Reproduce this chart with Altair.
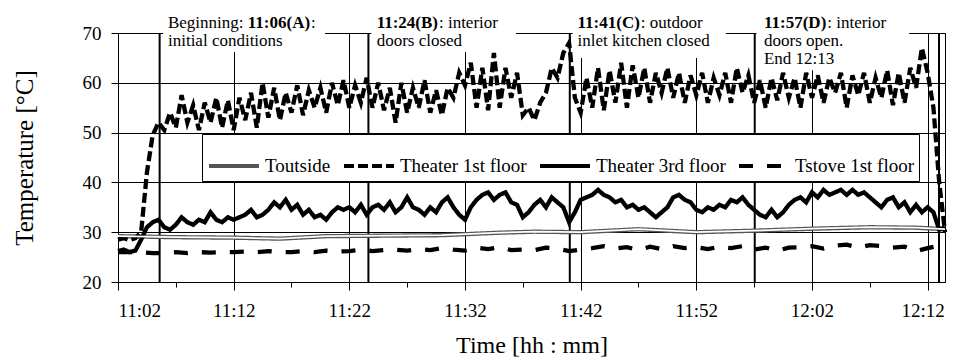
import altair as alt
import pandas as pd

# ---------------- data (minutes after 11:00) ----------------
SERIES = ["Toutside", "Theater 1st floor", "Theater 3rd floor", "Tstove 1st floor"]

T_FINE = [2 + 0.5 * i for i in range(144)]  # 11:02 ... 12:13.5 every 30 s

THEATER_1ST = [
    28.5, 28.8, 28.4, 28.8, 30, 42, 49.5, 52, 50.5, 54,
    51, 57.5, 52, 55.5, 50.5, 56, 52, 57, 51, 56.5,
    50.5, 57, 52.5, 58, 51, 60, 53, 59, 52.5, 58,
    54, 59.5, 53.5, 58.5, 55, 59, 54, 60, 55.5, 60.5,
    55, 59.5, 56, 61, 55, 60, 54.5, 59, 52, 60,
    54, 59, 55, 60.5, 54, 58.5, 53.5, 59, 57, 62,
    59.5, 64, 55, 63, 54.5, 66, 55, 63, 57, 62,
    53.5, 55, 52.5, 56, 58, 63, 61, 66, 68, 57,
    54, 61, 55, 63, 54.5, 62.5, 56, 64, 55, 63.5,
    57, 63, 56, 62, 58, 63, 57, 62, 56, 61.5,
    57.5, 62, 56, 61, 57.5, 62, 56, 63, 58, 61.5,
    56, 60.5, 55, 61, 56.5, 62, 57, 61, 55, 62,
    57, 61.5, 56, 61, 58, 62, 55, 61.5, 57.5, 62,
    56, 61, 57, 62.5, 55.5, 62, 56, 63, 59, 67,
    62, 55, 40, 30,
]

THEATER_3RD = [
    26.2, 26.5, 26, 26.3, 28.5, 31, 32, 32.5, 31, 30.5,
    31.5, 33, 32, 31.5, 32.5, 32, 34, 32.5, 32, 33,
    32.5, 33, 33.5, 34.5, 33, 33.5, 34.5, 36, 35, 36.5,
    34.5, 35.5, 33.5, 34.5, 33, 33.5, 32.5, 34, 35, 34.5,
    35, 34, 35.5, 33.5, 35, 35.5, 34.5, 36, 34, 35,
    37, 35, 34.5, 33.5, 35, 34, 36, 37, 35, 33.5,
    32.5, 35, 36.5, 37.5, 38, 36.5, 37.5, 38, 36, 35.5,
    33, 34, 35.5, 36.5, 35, 37, 36, 35, 32, 34,
    36.5, 37, 37.5, 38.5, 37.5, 37, 36, 36.5, 35, 35.5,
    34.5, 35, 34, 33, 34, 35, 37, 37.5, 36.5, 36,
    34.5, 34, 35, 34.5, 35.5, 35, 36.5, 36, 37, 35.5,
    34.5, 33.5, 33, 34.5, 33, 34, 35.5, 36.5, 37, 36,
    38, 37, 38.5, 37.5, 38, 38.5, 37.5, 38.5, 37.5, 38,
    37, 36, 35, 36.5, 37, 35, 36, 34, 35.5, 34,
    35, 34, 30.5, 31,
]

T_STOVE_TIMES = list(range(2, 74))
TSTOVE_1ST = [
    26, 26, 26, 25.8, 25.8, 26, 25.8, 26, 25.9, 26,
    26, 26.1, 26, 26.2, 26, 26, 26.2, 26, 26.3, 26.1,
    26.2, 26.5, 26.2, 26.4, 26.5, 26.3, 26.6, 26.4, 26.8, 26.5,
    26.3, 26.9, 26.6, 27, 26.4, 26.5, 26.4, 26.9, 26.7, 26.2,
    26.5, 26.8, 27.2, 26.7, 27, 26.4, 27.1, 26.6, 27.2, 26.8,
    27, 26.6, 27.1, 26.8, 27.2, 26.5, 26.9, 26.3, 26.9, 27,
    27.2, 26.7, 27.3, 27.5, 26.9, 27.4, 27.2, 26.9, 27.1, 26.2,
    26.8, 27.3,
]

TOUT_TIMES = [2, 7, 12, 16, 20, 25, 30, 35, 38, 42, 47, 52, 57, 62, 67, 71, 73.5]
TOUTSIDE = [29.2, 29.0, 28.9, 28.7, 29.2, 29.3, 29.4, 29.9, 30.1, 30.0,
            30.6, 30.0, 30.3, 30.7, 31.0, 30.9, 30.6]

X_TICKS = list(range(2, 73, 5))
Y_TICKS = [20, 30, 40, 50, 60, 70]

EVENTS = [5.6, 23.65, 41.06, 57.05, 72.98]

ANN_START = [6.32, 24.36, 41.73, 57.85]
ANN_BOX_X1 = [5.9, 23.9, 41.3, 57.2]
ANN_BOX_X2 = [19.9, 36.4, 54.55, 70.4]
ANN_BOX_BOTTOM = [66.2, 66.2, 65.0, 62.5]
ANN_PRE = ["Beginning: ", "", "", ""]
ANN_BOLD = ["11:06(A)", "11:24(B)", "11:41(C)", "11:57(D)"]
ANN_POST = [":", ": interior", ": outdoor", ": interior"]
ANN_LINE2 = ["initial conditions", "doors closed", "inlet kitchen  closed", "doors open."]
ANN_LINE3 = ["", "", "", "End 12:13"]

# ---------------- layout constants ----------------
W, H = 827, 249
X_DOM = [2, 73.5]
Y_DOM = [20, 70]
PX_PER_MIN = W / (X_DOM[1] - X_DOM[0])
PX_PER_DEG = H / (Y_DOM[1] - Y_DOM[0])
ANN_FS = 17
PRE_W = [4.695 * ANN_FS, 0, 0, 0]
BOLD_W = [3.721 * ANN_FS, 3.666 * ANN_FS, 3.721 * ANN_FS, 3.721 * ANN_FS]
LINE_Y = [70 + 5 / PX_PER_DEG, 70 - 13 / PX_PER_DEG, 70 - 31 / PX_PER_DEG]
BOX_TOP = 75
FONT = "Liberation Serif"

# ---------------- tables ----------------
df_lines = pd.concat([
    pd.DataFrame({"t": TOUT_TIMES, "v": TOUTSIDE, "series": SERIES[0]}),
    pd.DataFrame({"t": T_FINE, "v": THEATER_1ST, "series": SERIES[1]}),
    pd.DataFrame({"t": T_FINE, "v": THEATER_3RD, "series": SERIES[2]}),
    pd.DataFrame({"t": T_STOVE_TIMES, "v": TSTOVE_1ST, "series": SERIES[3]}),
], ignore_index=True)
df_tout = pd.DataFrame({"t": TOUT_TIMES, "v": TOUTSIDE})
df_events = pd.DataFrame({"t": EVENTS})
df_boxes = pd.DataFrame({"x1": ANN_BOX_X1, "x2": ANN_BOX_X2,
                         "y1": ANN_BOX_BOTTOM, "y2": [BOX_TOP] * 4})

normal_rows, bold_rows = [], []
for i in range(4):
    s = ANN_START[i]
    if ANN_PRE[i]:
        normal_rows.append({"t": s, "v": LINE_Y[0], "txt": ANN_PRE[i]})
    bold_rows.append({"t": s + PRE_W[i] / PX_PER_MIN, "v": LINE_Y[0], "txt": ANN_BOLD[i]})
    normal_rows.append({"t": s + (PRE_W[i] + BOLD_W[i]) / PX_PER_MIN, "v": LINE_Y[0], "txt": ANN_POST[i]})
    normal_rows.append({"t": s, "v": LINE_Y[1], "txt": ANN_LINE2[i]})
    if ANN_LINE3[i]:
        normal_rows.append({"t": s, "v": LINE_Y[2], "txt": ANN_LINE3[i]})
df_norm = pd.DataFrame(normal_rows)
df_bold = pd.DataFrame(bold_rows)

# ---------------- scales / axes ----------------
xscale = alt.Scale(domain=X_DOM, nice=False, zero=False)
yscale = alt.Scale(domain=Y_DOM, nice=False, zero=False)

major = "(datum.value - 2) % 10 == 0"
label_expr = (
    f"{major} ? (floor((660 + datum.value) / 60) + ':' + "
    "(((660 + datum.value) % 60) < 10 ? '0' : '') + ((660 + datum.value) % 60)) : ''"
)
xaxis = alt.Axis(
    values=X_TICKS, labelExpr=label_expr, title="Time [hh : mm]",
    grid=True, gridColor="black", gridWidth=1,
    gridOpacity={"condition": {"test": major, "value": 1}, "value": 0},
    tickSize={"condition": {"test": major, "value": 8}, "value": 5},
    labelOffset={"condition": {"test": "datum.value >= 72", "value": -5}, "value": 0},
    tickColor="black", domainColor="black",
    labelFont=FONT, titleFont=FONT, labelColor="black", titleColor="black",
    titleFontWeight="normal",
    labelFontSize=19, labelPadding=11, titleFontSize=24, titlePadding=13,
)
yaxis = alt.Axis(
    values=Y_TICKS, title="Temperature [°C]", grid=True, gridColor="black", gridWidth=1,
    tickSize=7, tickColor="black", domainColor="black",
    labelFont=FONT, titleFont=FONT, labelColor="black", titleColor="black",
    titleFontWeight="normal",
    labelFontSize=19, labelPadding=10, titleFontSize=25, titlePadding=45,
)

leg = alt.Legend(
    orient="none", legendX=84, legendY=101, direction="horizontal", columns=4,
    title=None, symbolType="stroke", symbolSize=2500, symbolStrokeWidth=4,
    labelFont=FONT, labelFontSize=19, labelColor="black", labelOffset=4, labelLimit=0,
    columnPadding=5, padding=5, fillColor="white", strokeColor="black", cornerRadius=0,
)

rules = alt.Chart(df_events).mark_rule(color="black", strokeWidth=2).encode(
    x=alt.X("t:Q", scale=xscale)
)
boxes = alt.Chart(df_boxes).mark_rect(color="white", opacity=1).encode(
    x=alt.X("x1:Q", scale=xscale), x2="x2:Q",
    y=alt.Y("y1:Q", scale=yscale), y2="y2:Q",
)
lines = alt.Chart(df_lines).mark_line(strokeWidth=4.3).encode(
    x=alt.X("t:Q", scale=xscale, axis=xaxis),
    y=alt.Y("v:Q", scale=yscale, axis=yaxis),
    color=alt.Color("series:N", scale=alt.Scale(domain=SERIES, range=["#555555", "black", "black", "black"]), legend=leg),
    strokeDash=alt.StrokeDash("series:N", scale=alt.Scale(domain=SERIES, range=[[1, 0], [10, 4], [1, 0], [14, 14]]), legend=leg),
)
tout_inner = alt.Chart(df_tout).mark_line(color="white", strokeWidth=1.8).encode(
    x=alt.X("t:Q", scale=xscale), y=alt.Y("v:Q", scale=yscale)
)
txt_norm = alt.Chart(df_norm).mark_text(
    align="left", baseline="alphabetic", font=FONT, fontSize=ANN_FS, color="black"
).encode(x=alt.X("t:Q", scale=xscale), y=alt.Y("v:Q", scale=yscale), text="txt:N")
txt_bold = alt.Chart(df_bold).mark_text(
    align="left", baseline="alphabetic", font=FONT, fontSize=ANN_FS, fontWeight="bold", color="black"
).encode(x=alt.X("t:Q", scale=xscale), y=alt.Y("v:Q", scale=yscale), text="txt:N")

chart = alt.layer(rules, boxes, lines, tout_inner, txt_norm, txt_bold).properties(
    width=W, height=H, background="white",
    autosize=alt.AutoSizeParams(type="none"),
    padding={"left": 110, "top": 25, "right": 3, "bottom": 80},
).configure_view(stroke="black", strokeWidth=1).configure_axis(
    labelFont=FONT, titleFont=FONT, labelColor="black", titleColor="black",
    titleFontWeight="normal",
).configure_legend(labelFont=FONT, labelColor="black")

chart.save("out.html", embed_options={"renderer": "svg", "actions": False})
